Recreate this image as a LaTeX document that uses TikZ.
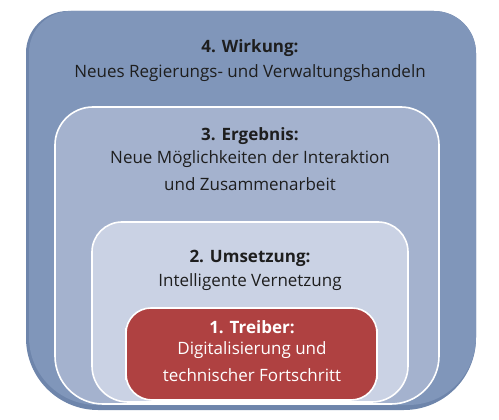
\documentclass[tikz,border=0pt]{standalone}
\usepackage{fontspec}
\setmainfont{Open Sans}
\definecolor{outerc}{HTML}{8096BA}
\definecolor{outerd}{HTML}{6E85AB}
\definecolor{ergc}{HTML}{A4B2CE}
\definecolor{umsc}{HTML}{CAD2E4}
\definecolor{treic}{HTML}{AF4141}
\definecolor{txt}{HTML}{1E1E1E}
\newcommand\rrshape[7]{%
  \path[#1] ({(#2+#4)/2},#3) [rounded corners=#6] -| (#4,{(#3+#5)/2})
    [rounded corners=#7] |- ({(#2+#4)/2},#5) -| (#2,{(#3+#5)/2})
    [rounded corners=#6] |- ({(#2+#4)/2-1},#3) -- cycle;}
\tikzset{
  boxline/.style={draw=white, line width=1.6},
  ttl/.style={font=\fontsize{17}{20}\selectfont\bfseries, text=txt, inner sep=0pt},
  sub/.style={font=\fontsize{17}{27}\selectfont, text=txt, inner sep=0pt, align=center},
}
\begin{document}
\begin{tikzpicture}[x=1pt,y=-1pt]
\useasboundingbox (0,0) rectangle (499,420);
% outer box with slight shadow
\rrshape{fill=outerd}{26}{11}{476}{410}{42}{72}
\rrshape{fill=outerc}{29}{11}{476}{405}{42}{68}
% box 3
\rrshape{fill=ergc, boxline}{55}{107}{439}{404}{38}{48}
% box 2
\rrshape{fill=umsc, boxline}{92}{222}{408}{402}{30}{36}
% box 1
\rrshape{fill=treic, boxline}{126}{308}{377}{400}{25}{26}
% texts
\node[ttl] (t4) at (250,48) {4. Wirkung:};
\node[sub] (s4) at (250,73) {Neues Regierungs- und Verwaltungshandeln};
\node[ttl] (t3) at (250,136) {3. Ergebnis:};
\node[sub, anchor=north] (s3) at (250,150) {Neue Möglichkeiten der Interaktion\\und Zusammenarbeit};
\node[ttl] (t2) at (250,258) {2. Umsetzung:};
\node[sub] (s2) at (250,282) {Intelligente Vernetzung};
\node[ttl, text=white] (t1) at (252,327) {1. Treiber:};
\node[sub, text=white, anchor=north] (s1) at (252,341) {Digitalisierung und\\technischer Fortschritt};
\end{tikzpicture}
\end{document}
